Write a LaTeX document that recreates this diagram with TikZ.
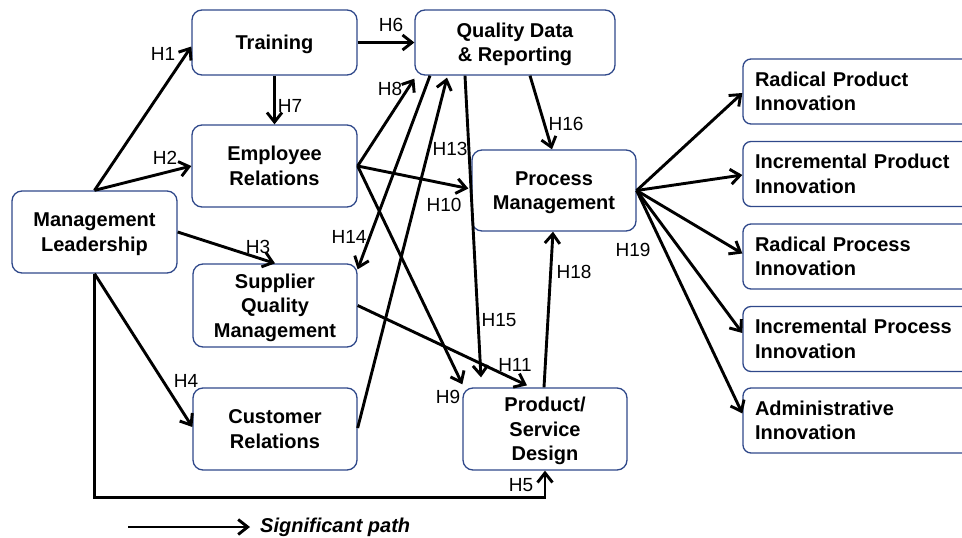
\documentclass[tikz,border=0pt]{standalone}
\usepackage{fontspec}
\setmainfont{Liberation Sans}
\usetikzlibrary{arrows.meta,calc}
\definecolor{boxblue}{RGB}{47,72,138}
\begin{document}
\begin{tikzpicture}[x=1pt,y=-1pt,
  box/.style={draw=boxblue, line width=1.3pt, rounded corners=10pt, align=center,
    inner sep=0pt, text depth=0pt, font=\fontsize{20}{24.5}\selectfont\bfseries, text=black},
  outbox/.style={box, text depth={}, minimum width=237pt, minimum height=65pt, text width=213pt,
    align=left, rounded corners=8pt},
  link/.style={line width=2.9pt, black, -{Straight Barb[length=9.5pt,width=15pt]}},
  hlab/.style={font=\fontsize{19}{22}\selectfont, inner sep=0pt, text=black}
]
\useasboundingbox (0,0) rectangle (962,538);
\clip (0,0) rectangle (962,538);

% constructs
\node[box, minimum width=165pt, minimum height=65pt] (tr)  at (274.5,42.5) {Training};
\node[box, minimum width=200pt, minimum height=65pt] (qdr) at (515,42.5)   {Quality Data\\\& Reporting};
\node[box, minimum width=165pt, minimum height=82pt] (er)  at (274.5,166)  {Employee\\Relations};
\node[box, minimum width=164pt, minimum height=81pt] (pm)  at (554,190.5)  {Process\\Management};
\node[box, minimum width=165pt, minimum height=82pt] (ml)  at (94.5,232)   {Management\\Leadership};
\node[box, minimum width=164pt, minimum height=83pt] (sqm) at (275,305.5)  {Supplier\\Quality\\Management};
\node[box, minimum width=164pt, minimum height=82pt] (cr)  at (275,429)    {Customer\\Relations};
\node[box, minimum width=164pt, minimum height=82pt] (psd) at (545,429)    {Product/\\Service\\Design};

% innovation outcomes
\node[outbox] (rpd) at (861.5,91.5)  {Radical Product\\Innovation};
\node[outbox] (ipd) at (861.5,174)   {Incremental Product\\Innovation};
\node[outbox] (rpc) at (861.5,256.5) {Radical Process\\Innovation};
\node[outbox] (ipc) at (861.5,339)   {Incremental Process\\Innovation};
\node[outbox] (adm) at (861.5,420.5) {Administrative\\Innovation};

% hypothesised paths
\draw[link] (ml.north) -- ([yshift=-4pt]tr.west);
\draw[link] (ml.north) -- (er.west);
\draw[link] (ml.east) -- (sqm.north);
\draw[link] (ml.south) -- ([yshift=2pt]cr.west);
\draw[link] (ml.south) -- ++(0,224) -| (psd.south);
\draw[link] (tr.east) -- (qdr.west);
\draw[link] (tr.south) -- (er.north);
\draw[link] (er.east) -- ([yshift=-3pt]qdr.south west);
\draw[link] (er.east) -- ([yshift=3pt]psd.north west);
\draw[link] (er.east) -- ([xshift=-3pt,yshift=2pt]pm.west);
\draw[link] (sqm.east) -- ([xshift=-18pt,yshift=2pt]psd.north);
\draw[link] ([yshift=1pt]cr.east) -- ([xshift=-68pt,yshift=-2pt]qdr.south);
\draw[link] ([xshift=-85pt]qdr.south) -- ([yshift=-6pt]sqm.north east);
\coordinate (h15end) at ([xshift=-64pt,yshift=10pt]psd.north);
\draw[link] ([xshift=-50pt]qdr.south) -- (h15end);
\draw[link] ([xshift=15pt]qdr.south) -- ([xshift=-2pt]pm.north);
\draw[link] ([xshift=-1pt]psd.north) -- ([xshift=-1pt]pm.south);
\draw[link] (pm.east) -- ([yshift=-1.5pt]rpd.west);
\draw[link] (pm.east) -- ([yshift=-1pt]ipd.west);
\draw[link] (pm.east) -- ([yshift=3pt]rpc.west);
\draw[link] (pm.east) -- ([yshift=6pt]ipc.west);
\draw[link] (pm.east) -- ([yshift=7pt]adm.west);

% path labels
\node[hlab] (lh1)  at (163,54)  {H1};
\node[hlab] (lh2)  at (165,158) {H2};
\node[hlab] (lh3)  at (258,247) {H3};
\node[hlab] (lh4)  at (186,381) {H4};
\node[hlab] (lh5)  at (521,485) {H5};
\node[hlab] (lh6)  at (391,25)  {H6};
\node[hlab] (lh7)  at (290,106) {H7};
\node[hlab] (lh8)  at (390,89)  {H8};
\node[hlab] (lh9)  at (448,397) {H9};
\node[hlab] (lh10) at (444,205) {H10};
\node[hlab] (lh11) at (515,365) {H11};
\node[hlab] (lh13) at (450,149) {H13};
\node[hlab] (lh14) at (349,237) {H14};
\node[hlab] (lh15) at (499,320) {H15};
\node[hlab] (lh16) at (566,124) {H16};
\node[hlab] (lh18) at (574,272) {H18};
\node[hlab] (lh19) at (633,250) {H19};

% legend
\coordinate (legA) at (128,527);
\coordinate (legB) at (250,527);
\draw[link] (legA) -- (legB);
\node[anchor=west, inner sep=0pt, font=\fontsize{20}{24}\selectfont\bfseries\itshape] (legtxt) at (260,527) {Significant path};
\end{tikzpicture}
\end{document}
